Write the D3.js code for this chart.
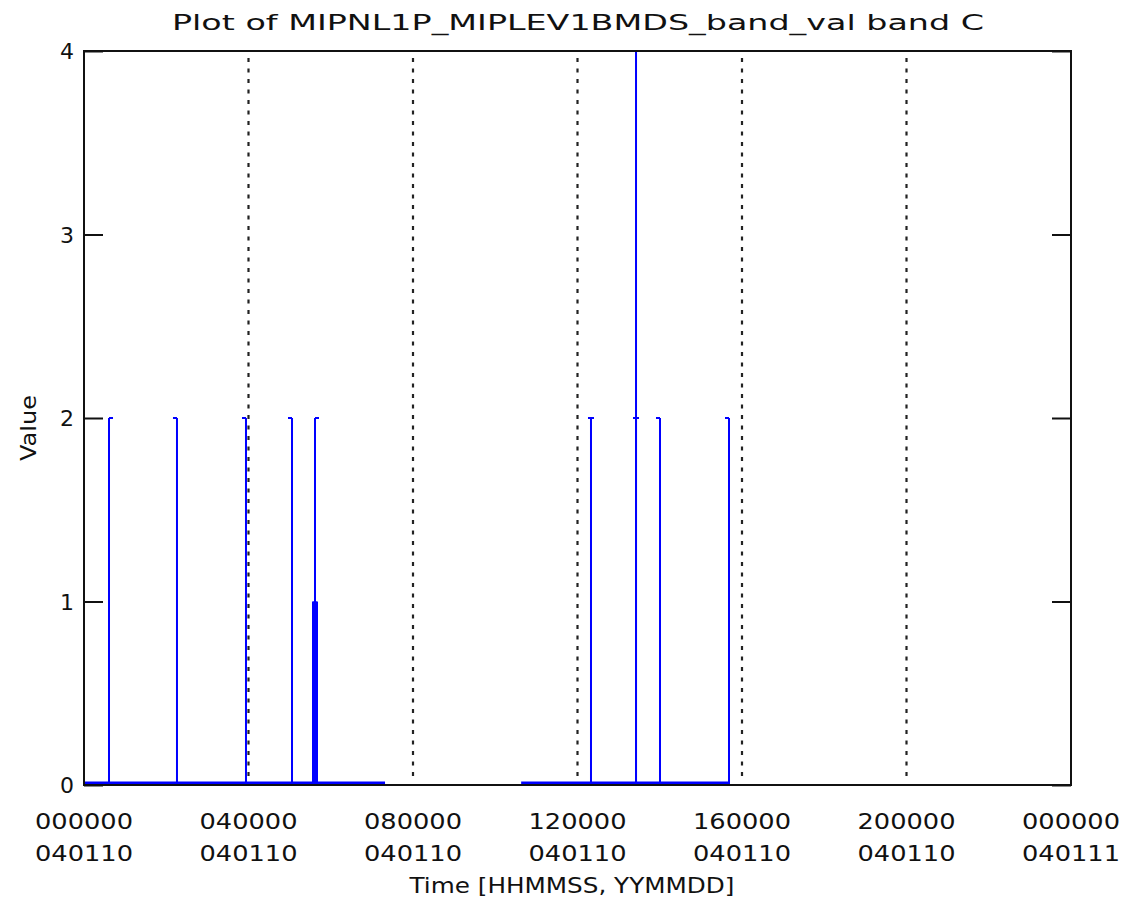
<!DOCTYPE html>
<html>
<head>
<meta charset="utf-8">
<script src="https://cdn.jsdelivr.net/npm/d3@7"></script>
<style>
  html, body { margin: 0; padding: 0; background: #fff; }
  svg { display: block; }
  text { font-family: "DejaVu Sans", "Liberation Sans", sans-serif; fill: #111; }
</style>
</head>
<body>
<svg id="chart" width="1129" height="910"></svg>
<script>
// ---- data (time in hours since 000000 040110) ----
const titleText = "Plot of MIPNL1P_MIPLEV1BMDS_band_val band C";
const xTitle = "Time [HHMMSS, YYMMDD]";
const yTitle = "Value";
const xTickHours = [0, 4, 8, 12, 16, 20, 24];
const xTickTime = ["000000", "040000", "080000", "120000", "160000", "200000", "000000"];
const xTickDate = ["040110", "040110", "040110", "040110", "040110", "040110", "040111"];
const gridHours = [4, 8, 12, 16, 20];
const yTicks = [0, 1, 2, 3, 4];
// segments where data exist at value 0
const segStart = [0.0, 10.63];
const segEnd = [7.32, 15.684];
// spikes
const spikeTime  = [0.608, 2.261, 3.939, 5.058, 5.568, 5.59, 5.617, 5.64, 5.665, 12.328, 13.423, 13.423, 14.006, 15.684];
const spikeValue = [2,     2,     2,     2,     1,     1,    2,     1,    1,     2,      4,      2,      2,      2];
const capSide    = [1,    -1,    -1,    -1,   null,  null,   1,   null, null,    0,      0,      0,     -1,     -1];

// ---- layout ----
const mL = 84, mR = 1071, mT = 51, mB = 785;
const svg = d3.select("#chart");
const x = d3.scaleLinear().domain([0, 24]).range([mL, mR]);
const y = d3.scaleLinear().domain([0, 4]).range([mB, mT]);

// dotted grid lines
svg.append("g").selectAll("line").data(gridHours).join("line")
  .attr("x1", d => x(d)).attr("x2", d => x(d))
  .attr("y1", mT + 7).attr("y2", mB - 4)
  .attr("stroke", "#222").attr("stroke-width", 2.2)
  .attr("stroke-dasharray", "4,6.5");

// data: baseline segments
const blue = "#0000ff";
svg.append("g").selectAll("line").data(segStart).join("line")
  .attr("x1", (d, i) => x(d)).attr("x2", (d, i) => x(segEnd[i]))
  .attr("y1", y(0) - 1.5).attr("y2", y(0) - 1.5)
  .attr("stroke", blue).attr("stroke-width", 4);

// spikes
const sp = spikeTime.map((t, i) => ({t, v: spikeValue[i], c: capSide[i]}));
const line = d3.line().x(d => d[0]).y(d => d[1]);
svg.append("g").selectAll("path").data(sp).join("path")
  .attr("d", d => {
    const px = x(d.t), py = y(d.v);
    const pts = [[px, y(0)], [px, py]];
    if (d.c === null) return line(pts);
    if (d.c === 0) return line(pts) + "M" + (px - 3) + "," + py + "H" + (px + 3);
    return line(pts) + "M" + px + "," + py + "H" + (px + 4 * d.c);
  })
  .attr("fill", "none").attr("stroke", blue).attr("stroke-width", 2);

// frame
svg.append("rect").attr("x", mL).attr("y", mT)
  .attr("width", mR - mL).attr("height", mB - mT)
  .attr("fill", "none").attr("stroke", "#111").attr("stroke-width", 2);

// y axes (inward ticks both sides)
const yAxisL = d3.axisRight(y).tickValues(yTicks).tickSize(19).tickFormat("");
const gL = svg.append("g").attr("transform", `translate(${mL},0)`).call(yAxisL);
gL.select(".domain").remove();
gL.selectAll("line").attr("stroke", "#111").attr("stroke-width", 2);
const yAxisR = d3.axisLeft(y).tickValues(yTicks).tickSize(19).tickFormat("");
const gR = svg.append("g").attr("transform", `translate(${mR},0)`).call(yAxisR);
gR.select(".domain").remove();
gR.selectAll("line").attr("stroke", "#111").attr("stroke-width", 2);

// y tick labels
svg.append("g").selectAll("text").data(yTicks).join("text")
  .attr("x", 74).attr("y", d => y(d) + 8)
  .attr("text-anchor", "end").attr("font-size", 22)
  .text(d => d);

// x tick labels
const xl = svg.append("g");
xl.selectAll("text.t").data(xTickHours).join("text").attr("class", "t")
  .attr("x", d => x(d)).attr("y", 829)
  .attr("text-anchor", "middle").attr("font-size", 22)
  .attr("textLength", 98).attr("lengthAdjust", "spacingAndGlyphs")
  .text((d, i) => xTickTime[i]);
xl.selectAll("text.d").data(xTickHours).join("text").attr("class", "d")
  .attr("x", d => x(d)).attr("y", 861)
  .attr("text-anchor", "middle").attr("font-size", 22)
  .attr("textLength", 98).attr("lengthAdjust", "spacingAndGlyphs")
  .text((d, i) => xTickDate[i]);

// titles
svg.append("text").attr("x", 578).attr("y", 30)
  .attr("text-anchor", "middle").attr("font-size", 22)
  .attr("textLength", 812).attr("lengthAdjust", "spacingAndGlyphs")
  .text(titleText);
svg.append("text").attr("x", 572).attr("y", 893)
  .attr("text-anchor", "middle").attr("font-size", 22)
  .attr("textLength", 325).attr("lengthAdjust", "spacingAndGlyphs")
  .text(xTitle);
svg.append("text").attr("transform", "translate(36,428) rotate(-90)")
  .attr("text-anchor", "middle").attr("font-size", 22)
  .attr("textLength", 66).attr("lengthAdjust", "spacingAndGlyphs")
  .text(yTitle);
</script>
</body>
</html>
